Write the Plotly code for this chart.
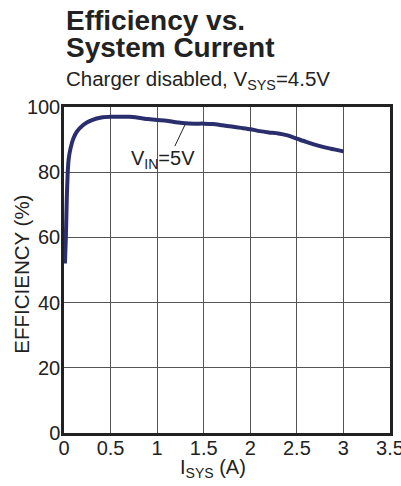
import plotly.graph_objects as go

current = [0.01, 0.02, 0.03, 0.04, 0.05, 0.07, 0.1, 0.14, 0.2, 0.25, 0.3, 0.4, 0.5, 0.6, 0.7,
           0.8, 0.9, 1.0, 1.1, 1.2, 1.3, 1.4, 1.5, 1.6, 1.7, 1.8, 1.9, 2.0, 2.1, 2.2,
           2.3, 2.4, 2.5, 2.6, 2.7, 2.8, 2.9, 3.0]
efficiency = [52, 60, 72, 80, 84, 87.3, 90.3, 92.5, 94.3, 95.3, 96.0, 96.8, 97.0, 97.0, 97.0,
              96.7, 96.3, 96.0, 95.8, 95.3, 95.0, 94.9, 94.9, 94.8, 94.4, 94.0, 93.6, 93.2, 92.6, 92.2,
              91.9, 91.3, 90.3, 89.3, 88.4, 87.6, 87.0, 86.4]

x_ticks = [0, 0.5, 1, 1.5, 2, 2.5, 3, 3.5]
x_tick_labels = ["0", "0.5", "1", "1.5", "2", "2.5", "3", "3.5"]
y_ticks = [0, 20, 40, 60, 80, 100]
y_tick_labels = ["0", "20", "40", "60", "80", "100"]

FONT = "Liberation Sans, Arial, sans-serif"
TXT = "#222222"

L, R, T, B = 63.5, 390.5, 107, 433
PW, PH = R - L, B - T

def py(ypx):
    return (B - ypx) / PH

def px(xpx):
    return (xpx - L) / PW

fig = go.Figure()
fig.add_trace(go.Scatter(
    x=current, y=efficiency, mode="lines",
    line=dict(color="#2b2e6c", width=4, shape="spline", smoothing=0.6),
    showlegend=False, hoverinfo="skip",
))

fig.update_layout(
    width=401, height=486,
    margin=dict(l=L, r=401 - R, t=T, b=486 - B, autoexpand=False),
    paper_bgcolor="white", plot_bgcolor="white",
    font=dict(family=FONT, color=TXT, size=20),
    xaxis=dict(
        range=[0, 3.5], tickvals=x_ticks, ticktext=x_tick_labels,
        showgrid=True, gridcolor="#555555", gridwidth=1,
        showline=True, linecolor="#222222", linewidth=2.5, mirror=True,
        ticks="", zeroline=False, tickfont=dict(size=20, color=TXT),
        automargin=False, ticklabelstandoff=-5, ticklabeloverflow="allow",
    ),
    yaxis=dict(
        range=[0, 100], tickvals=y_ticks, ticktext=y_tick_labels,
        showgrid=True, gridcolor="#555555", gridwidth=1,
        showline=True, linecolor="#222222", linewidth=2.5, mirror=True,
        ticks="", zeroline=False, tickfont=dict(size=20, color=TXT),
        automargin=False, ticklabelstandoff=-3, ticklabeloverflow="allow",
    ),
)

fig.add_annotation(xref="paper", yref="paper", x=0, y=py(21),
                   xanchor="left", yanchor="middle", showarrow=False,
                   text="<b>Efficiency vs.</b>", font=dict(size=28, color=TXT, family=FONT))
fig.add_annotation(xref="paper", yref="paper", x=0, y=py(48),
                   xanchor="left", yanchor="middle", showarrow=False,
                   text="<b>System Current</b>", font=dict(size=28, color=TXT, family=FONT))
fig.add_annotation(xref="paper", yref="paper", x=0, y=py(80),
                   xanchor="left", yanchor="middle", showarrow=False,
                   text="Charger disabled, V<sub>SYS</sub>=4.5V", font=dict(size=20.5, color=TXT, family=FONT))

fig.add_annotation(xref="paper", yref="paper", x=px(20), y=py(274),
                   xanchor="center", yanchor="middle", showarrow=False, textangle=-90,
                   text="EFFICIENCY (%)", font=dict(size=20.5, color=TXT, family=FONT))
fig.add_annotation(xref="paper", yref="paper", x=px(213), y=py(468),
                   xanchor="center", yanchor="middle", showarrow=False,
                   text="I<sub>SYS</sub> (A)", font=dict(size=20, color=TXT, family=FONT))

fig.add_annotation(x=1.06, y=84, xref="x", yref="y", showarrow=False,
                   text="V<sub>IN</sub>=5V", font=dict(size=20, color=TXT, family=FONT))
fig.add_shape(type="line", xref="x", yref="y", x0=1.19, y0=88, x1=1.30, y1=94.6,
              line=dict(color="#222222", width=1))

fig.write_html("out.html", config={"displayModeBar": False},
               post_script="document.body.style.margin='0';")
